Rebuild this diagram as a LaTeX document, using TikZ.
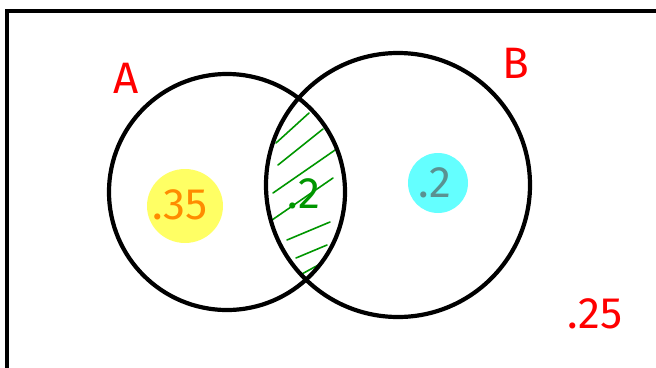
\documentclass[tikz,border=0pt]{standalone}
\usepackage{fontspec}
\setmainfont{Fira Sans}
\definecolor{blobY}{RGB}{255,255,100}
\definecolor{blobC}{RGB}{100,255,255}
\definecolor{txtO}{RGB}{255,140,0}
\definecolor{txtG}{RGB}{0,150,0}
\definecolor{txtT}{RGB}{90,145,145}
\definecolor{txtR}{RGB}{255,0,0}
\begin{document}
\begin{tikzpicture}[x=1pt,y=-1pt,
  circ/.style={line width=4.2pt,draw=black},
  hatch/.style={draw=txtG,line width=1.6pt,line cap=round},
  lbl/.style={inner sep=0pt,font=\fontsize{44}{46}\selectfont}]
\useasboundingbox (0,0) rectangle (656,367);
\draw[line width=4pt] (7,400) -- (7,11) -- (700,11);
% blobs
\fill[blobY] (185,206) ellipse [x radius=38,y radius=37];
\fill[blobC] (438,183) circle (30);
% hatching
\draw[hatch] (276,143) -- (309,113);
\draw[hatch] (278,165) -- (323,129);
\draw[hatch] (273,193) -- (338,148);
\draw[hatch] (272,220) -- (333,178);
\draw[hatch] (287,240) -- (330,222);
\draw[hatch] (296,258) -- (327,245);
\draw[hatch] (300,275) -- (322,263);
% circles
\node[circ,circle,minimum size=236pt,inner sep=0pt] (A) at (227,192) {};
\node[circ,circle,minimum size=264pt,inner sep=0pt] (B) at (398,185) {};
% labels
\node[lbl,text=txtR] (la) at (126,78) {A};
\node[lbl,text=txtR] (lb) at (516,63) {B};
\node[lbl,text=txtO] (v1) at (180,205) {.35};
\node[lbl,text=txtG] (v2) at (304,194) {.2};
\node[lbl,text=txtT] (v3) at (435,183) {.2};
\node[lbl,text=txtR] (v4) at (595,314) {.25};
\end{tikzpicture}
\end{document}
